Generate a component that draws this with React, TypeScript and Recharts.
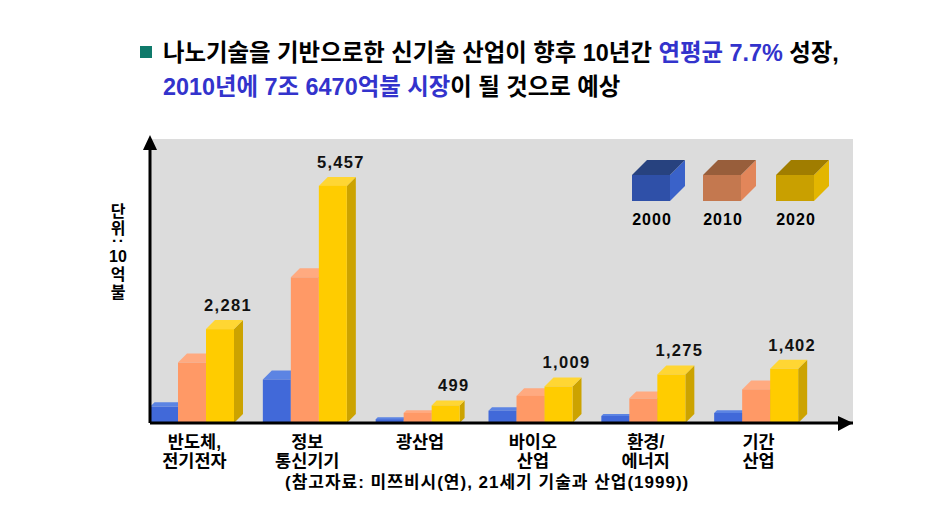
import React from 'react';
import { BarChart, Bar, XAxis, YAxis, LabelList, Legend } from 'recharts';

const categories = ['반도체,\n전기전자', '정보\n통신기기', '광산업', '바이오\n산업', '환경/\n에너지', '기간\n산업'];
const years = ['2000', '2010', '2020'];
const values2000 = [460, 1165, 130, 350, 200, 285];
const values2010 = [1540, 3430, 285, 770, 700, 945];
const values2020 = [2281, 5457, 499, 1009, 1275, 1402];
const titleLine1 = [
  { t: '나노기술을 기반으로한 신기술 산업이 향후 10년간 ', c: '#000' },
  { t: '연평균 7.7%', c: '#3333cc' },
  { t: ' 성장,', c: '#000' },
];
const titleLine2 = [
  { t: '2010년에 7조 6470억불 시장', c: '#3333cc' },
  { t: '이 될 것으로 예상', c: '#000' },
];
const unitLabel = ['단', '위', ':', '10', '억', '불'];
const sourceText = '(참고자료: 미쯔비시(연), 21세기 기술과 산업(1999))';

const data = categories.map((c, i) => ({ c, a: values2000[i], b: values2010[i], d: values2020[i] }));

const KR = '"Liberation Sans", "Noto Sans CJK KR", sans-serif';
const palette = {
  a: { front: '#4169d9', top: '#5c84e3', side: '#3454ae' },
  b: { front: '#ff9966', top: '#ffaa80', side: '#cc7a52' },
  d: { front: '#ffcc00', top: '#ffd633', side: '#cca300' },
};
const legendPalette = [
  { front: '#2f50a8', top: '#27427f', side: '#3a62c9' },
  { front: '#c4784f', top: '#985e3b', side: '#e2865a' },
  { front: '#c9a000', top: '#a07d00', side: '#e3b600' },
];

const box = (c: any) => (props: any) => {
  const { x, y, width, height } = props;
  const d = Math.min(9, Math.max(2, height * 0.22));
  const b = y + height;
  const f = y + d;
  return (
    <g>
      <polygon points={`${x + width},${f} ${x + width + d},${y} ${x + width + d},${b - d} ${x + width},${b}`} fill={c.side} />
      <polygon points={`${x},${f} ${x + d},${y} ${x + width + d},${y} ${x + width},${f}`} fill={c.top} />
      <rect x={x} y={f} width={width} height={b - f} fill={c.front} />
    </g>
  );
};

const CatTick = (props: any) => {
  const { x, y, payload } = props;
  const lines = String(payload.value).split('\n');
  return (
    <text textAnchor="middle" fontFamily={KR} fontSize={17.5} fontWeight={700} fill="#000">
      {lines.map((l, i) => (
        <tspan key={i} x={x + 2} y={y + 17 + i * 18.5}>{l}</tspan>
      ))}
    </text>
  );
};

const ValueLabel = (props: any) => {
  const { x, y, width, value } = props;
  return (
    <text x={x + width - 6} y={y - 9} textAnchor="middle" fontFamily={KR} fontSize={16.5} fontWeight={700} letterSpacing={1.3} fill="#111">
      {Number(value).toLocaleString('en-US')}
    </text>
  );
};

const CubeLegend = () => {
  const lefts = [632, 703, 776];
  const w = 38, h = 26, d = 15;
  return (
    <svg width={949} height={506} style={{ position: 'absolute', left: 0, top: 0, overflow: 'visible' }}>
      {years.map((yr, i) => {
        const x = lefts[i], y = 175, c = legendPalette[i];
        return (
          <g key={yr}>
            <polygon points={`${x + w},${y} ${x + w + d},${y - d} ${x + w + d},${y + h - d} ${x + w},${y + h}`} fill={c.side} />
            <polygon points={`${x},${y} ${x + d},${y - d} ${x + w + d},${y - d} ${x + w},${y}`} fill={c.top} />
            <rect x={x} y={y} width={w} height={h} fill={c.front} />
            <text x={x + 20} y={225} textAnchor="middle" fontFamily={KR} fontSize={16} fontWeight={700} letterSpacing={1} fill="#000">{yr}</text>
          </g>
        );
      })}
    </svg>
  );
};

const abs = (left: number, top: number, extra: any = {}) => ({
  position: 'absolute', left, top, fontFamily: KR, fontWeight: 700, whiteSpace: 'pre', lineHeight: 1, color: '#000', ...extra,
});

export default function App() {
  return (
    <div style={{ position: 'absolute', left: 0, top: 0, width: 949, height: 506, background: '#fff', overflow: 'hidden' }}>
      <div style={{ position: 'absolute', left: 150, top: 139, width: 703, height: 284, background: '#dcdcdc' }} />
      <div style={abs(140, 46, { width: 12, height: 12, background: '#0f7a6b' })} />
      <div style={abs(163, 42, { fontSize: 23.4 })}>
        {titleLine1.map((s, i) => <span key={i} style={{ color: s.c }}>{s.t}</span>)}
      </div>
      <div style={abs(163, 76, { fontSize: 23.4 })}>
        {titleLine2.map((s, i) => <span key={i} style={{ color: s.c }}>{s.t}</span>)}
      </div>
      {unitLabel.map((t, i) => (
        <div key={t} style={abs(98, [204, 221, 233, 249, 267, 285][i], { width: 40, textAlign: 'center', fontSize: 16, transform: t === ':' ? 'rotate(90deg)' : undefined })}>{t}</div>
      ))}
      <div style={{ position: 'absolute', left: 0, top: 0 }}>
        <BarChart width={949} height={506} data={data} margin={{ top: 139, right: 96, bottom: 82, left: 149 }} barSize={28} barGap={0}>
          <XAxis
            dataKey="c"
            height={1}
            interval={0}
            padding={{ left: -14, right: 40 }}
            axisLine={{ stroke: '#000', strokeWidth: 3 }}
            tickLine={false}
            tick={<CatTick />}
          />
          <YAxis width={1} domain={[0, 6297]} tick={false} tickLine={false} axisLine={{ stroke: '#000', strokeWidth: 3 }} />
          <Legend content={() => <CubeLegend />} wrapperStyle={{ position: 'absolute', left: 0, top: 0, width: 0, height: 0 }} />
          <Bar dataKey="a" name={years[0]} isAnimationActive={false} shape={box(palette.a)} />
          <Bar dataKey="b" name={years[1]} isAnimationActive={false} shape={box(palette.b)} />
          <Bar dataKey="d" name={years[2]} isAnimationActive={false} shape={box(palette.d)}>
            <LabelList dataKey="d" content={<ValueLabel />} />
          </Bar>
        </BarChart>
      </div>
      <svg width={949} height={506} style={{ position: 'absolute', left: 0, top: 0, pointerEvents: 'none' }}>
        <polygon points="150,135 143,150 157,150" fill="#000" />
        <polygon points="853,423 838,416 838,431" fill="#000" />
      </svg>
      <div style={abs(285, 474, { fontSize: 17, letterSpacing: 1 })}>{sourceText}</div>
    </div>
  );
}
